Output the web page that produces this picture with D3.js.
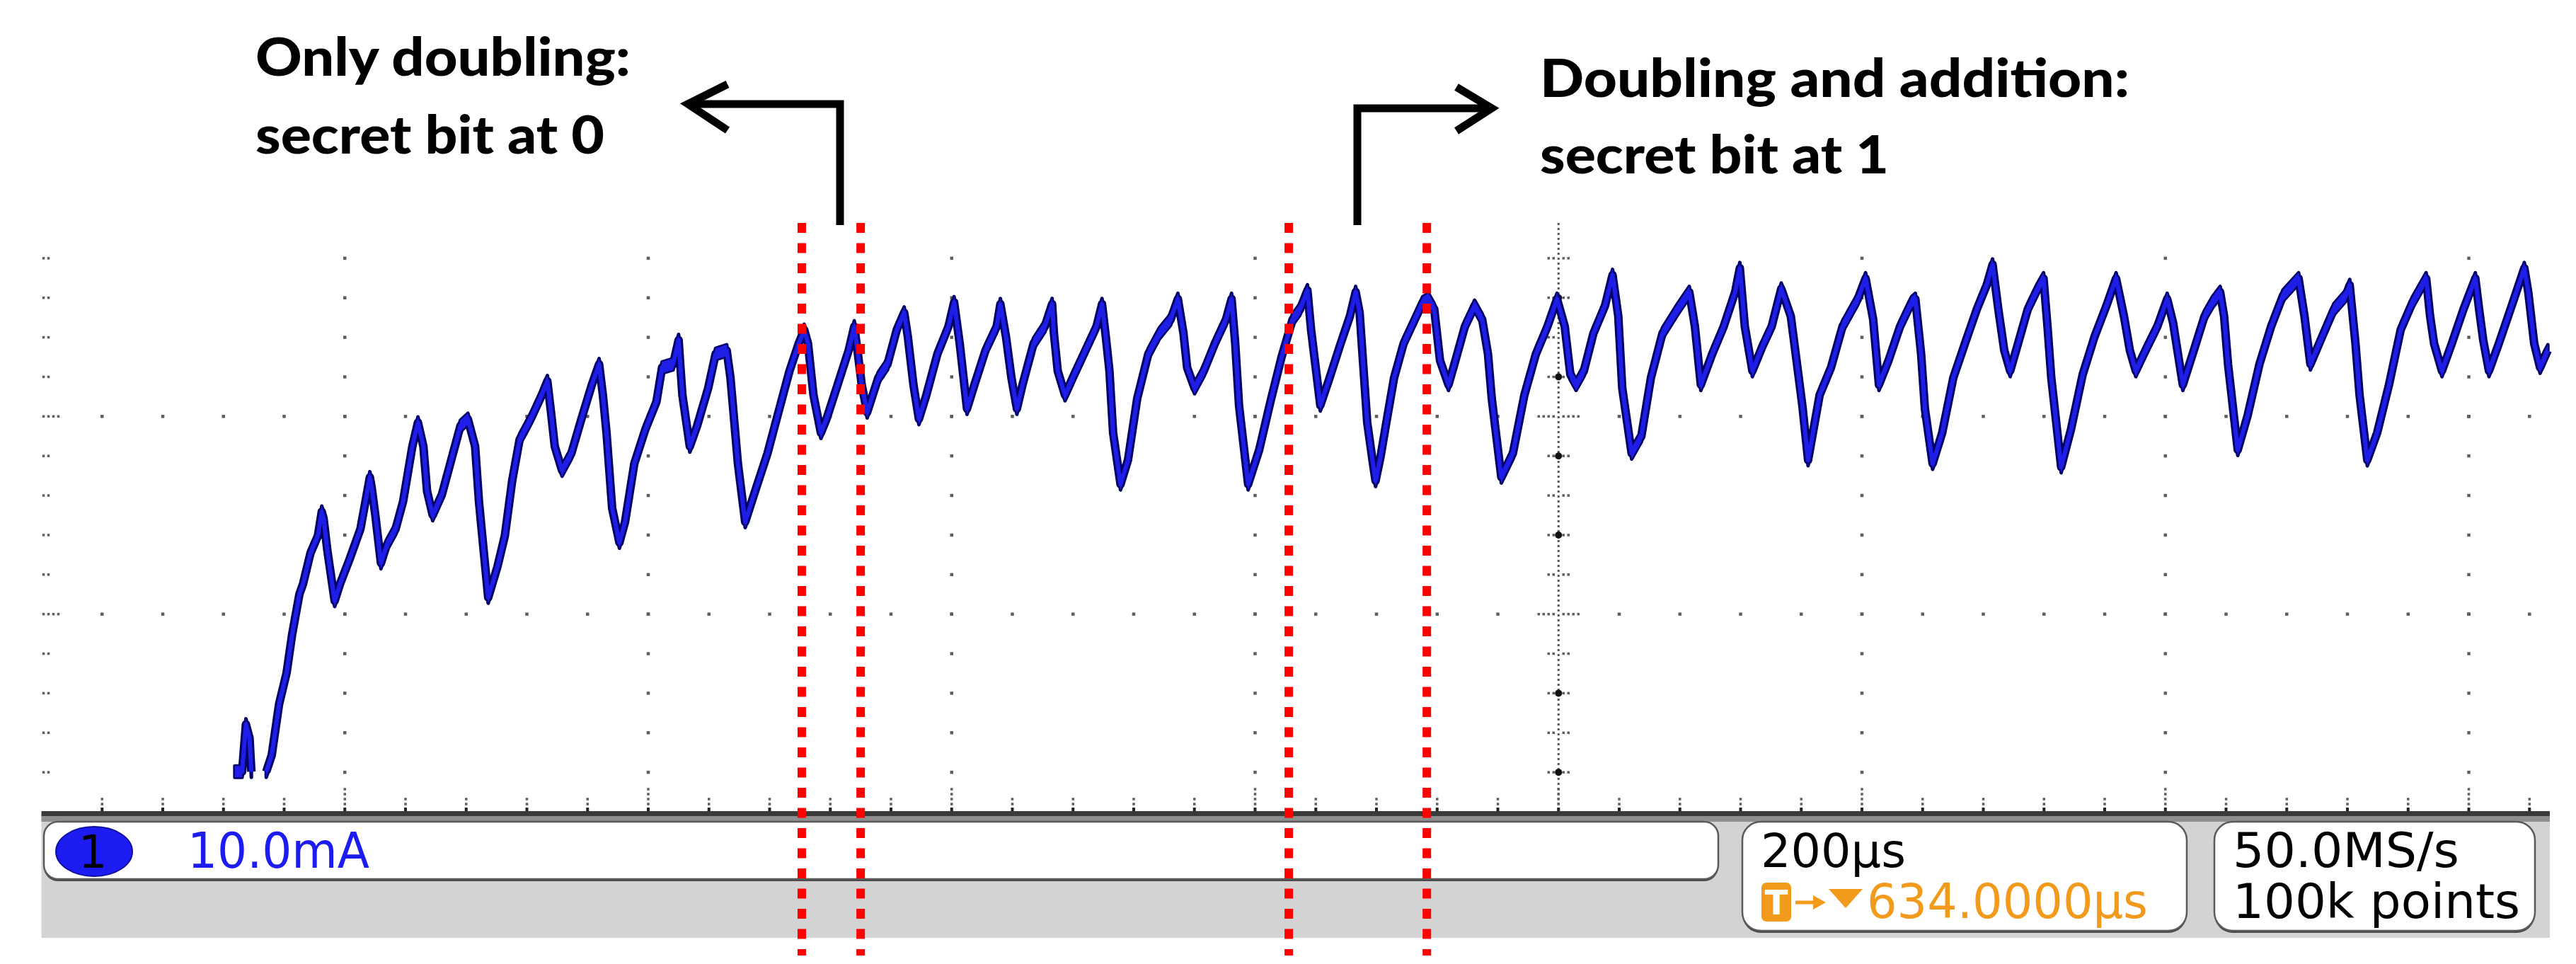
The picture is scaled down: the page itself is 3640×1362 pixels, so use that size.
<!DOCTYPE html>
<html><head><meta charset="utf-8">
<script src="https://cdn.jsdelivr.net/npm/d3@7"></script>
<style>html,body{margin:0;padding:0;background:#fff;} svg{display:block;}</style>
</head><body>
<svg id="chart" width="3640" height="1362"></svg>
<script>
// ---------------- DATA ----------------
// time axis: 200 µs / division, current axis: 10 mA / division
const timeSpanUs = 1653.4;           // visible width of the screen in µs
const currentSpanMa = 30;            // visible height of the screen in mA
const timeMinorUs = 40, timeMajorUs = 200;
const currentMinorMa = 2, currentMajorMa = 10;
const centerTimeUs = 1000;

const traceTimeUs = [
127.5,132.3,134.8,137.2,138.4,143.0,148.2,151.8,156.7,161.6,
165.2,170.1,172.5,177.4,182.3,184.8,186.0,188.4,193.3,196.9,
203.0,210.3,216.5,217.7,220.1,223.8,227.4,233.5,238.4,244.5,
248.2,251.8,254.2,257.9,264.0,271.3,276.2,281.1,285.9,288.4,
294.5,300.6,305.5,310.3,315.2,322.5,329.8,333.5,335.9,338.4,
343.2,349.3,356.6,362.8,367.6,370.1,372.5,376.2,381.0,384.7,
390.8,398.1,405.4,409.1,416.4,420.0,422.5,427.4,432.2,439.5,
444.4,451.7,454.2,459.1,463.9,471.2,478.6,485.8,493.1,499.2,
502.8,505.3,508.9,513.8,517.5,524.8,532.1,535.8,538.2,540.7,
544.3,551.6,557.7,563.8,568.7,571.1,574.8,578.4,583.3,590.6,
597.9,601.6,605.3,610.1,615.0,622.3,629.7,632.1,635.8,639.4,
643.0,646.7,654.0,661.4,666.2,667.4,669.9,674.7,680.8,688.2,
695.5,699.1,701.6,704.0,706.4,711.3,716.2,722.3,729.6,736.9,
744.3,749.1,752.8,755.2,760.1,766.2,773.5,780.8,784.5,786.9,
789.4,795.4,802.7,810.1,817.4,824.7,829.6,834.5,836.9,843.0,
849.1,856.4,862.5,866.3,868.9,871.4,873.9,877.7,879.4,882.7,
886.5,891.6,897.9,904.2,910.5,914.3,918.1,921.9,927.5,932.0,
938.3,944.7,949.7,953.5,956.0,962.3,969.9,977.5,985.1,992.7,
999.0,1004.1,1007.8,1011.6,1016.7,1023.0,1030.6,1035.6,1039.4,1042.0,
1048.2,1054.6,1060.9,1068.5,1078.5,1086.2,1089.9,1093.8,1101.3,1108.9,
1116.4,1119.5,1122.8,1127.8,1134.2,1140.5,1146.8,1153.1,1156.9,1160.7,
1164.5,1172.1,1179.6,1187.2,1197.3,1202.4,1207.4,1211.2,1217.5,1225.1,
1232.7,1235.2,1239.0,1241.5,1246.6,1252.9,1260.2,1267.9,1275.7,1282.2,
1286.1,1289.9,1293.8,1297.7,1302.9,1309.3,1315.8,1319.7,1322.3,1324.8,
1331.3,1337.8,1345.5,1353.3,1361.1,1367.5,1372.7,1376.6,1380.5,1386.9,
1394.7,1401.2,1405.1,1409.0,1411.5,1418.0,1425.8,1431.0,1436.1,1438.7,
1441.3,1447.7,1454.2,1462.0,1469.7,1477.5,1487.8,1491.7,1495.6,1503.3,
1511.1,1518.9,1521.5,1525.3,1528.0,1533.1,1539.6,1547.4,1555.1,1562.9,
1571.9,1574.5,1577.1,1582.3,1588.8,1596.5,1604.3,1606.8,1609.5,1613.3,
1619.8,1627.5,1636.6,1639.2,1643.1,1647.0,1650.9,1652.1
];
const traceCurrentMa = [
2.03,2.03,4.42,3.73,2.03,null,2.03,2.86,5.46,7.02,
8.94,11.02,11.54,13.10,13.97,15.18,14.84,13.27,10.67,11.54,
12.75,14.31,16.92,16.40,15.01,12.58,13.45,14.31,15.70,18.48,
19.69,18.48,16.22,15.01,16.05,18.13,19.52,19.87,18.48,15.70,
10.84,12.40,13.97,16.74,18.83,19.87,21.08,21.78,20.21,18.48,
17.26,18.13,20.04,21.60,22.64,21.08,19.17,15.36,13.62,14.66,
17.61,19.35,20.74,22.47,22.64,23.86,21.08,18.48,19.52,21.43,
23.16,23.34,21.95,17.61,14.66,16.40,18.13,20.21,22.30,23.69,
24.38,23.69,21.08,19.17,19.87,21.60,23.34,24.55,23.16,21.60,
20.21,21.95,22.64,24.38,25.25,24.03,21.60,19.87,21.08,23.16,
24.55,25.77,23.69,20.39,21.60,23.34,24.55,25.68,24.03,21.95,
20.39,21.60,23.69,24.55,25.68,24.20,22.30,21.08,22.12,23.34,
24.55,25.68,24.03,22.30,19.17,16.57,17.79,20.91,23.16,24.20,
24.90,25.94,24.20,22.47,21.43,22.30,23.69,24.90,25.94,23.69,
20.56,16.57,18.31,20.74,22.99,24.90,25.42,26.37,24.38,20.56,
21.95,23.69,25.07,26.29,25.25,22.47,19.69,17.61,16.74,17.96,
19.69,21.95,23.69,24.73,25.77,25.94,25.42,22.82,21.60,22.82,
24.55,25.59,24.90,23.16,20.91,16.92,18.13,21.08,23.16,24.55,
25.94,24.55,22.12,21.60,22.30,24.20,25.59,27.15,25.07,21.43,
18.13,19.00,21.95,24.20,25.42,26.29,24.55,21.60,23.16,24.55,
26.29,27.50,24.55,22.30,23.51,24.55,26.46,25.07,22.82,20.56,
17.79,21.08,22.47,24.55,25.94,26.98,24.90,21.60,22.82,24.55,
25.77,25.94,23.16,20.39,17.61,19.17,21.95,23.69,25.42,26.64,
27.68,25.42,23.34,22.30,23.69,25.42,26.46,26.98,24.55,21.95,
17.44,19.35,22.12,24.03,25.59,26.98,25.07,23.34,22.30,23.34,
24.55,25.94,24.73,22.82,21.60,23.16,25.07,25.77,26.29,25.07,
22.64,18.31,20.04,22.64,24.55,26.11,26.98,25.07,22.64,24.03,
25.42,26.11,26.64,23.69,21.08,17.79,19.17,21.60,24.38,25.77,
26.98,25.07,23.69,22.30,23.69,25.42,26.98,25.42,23.86,22.30,
23.69,25.42,27.50,26.29,23.69,22.47,23.16,23.34
];
// red dashed markers delimiting the two operations (µs)
const markerTimesUs = [501.2, 540.0, 822.2, 913.2];

// texts
const annotationLeft = ["Only doubling:", "secret bit at 0"];
const annotationRight = ["Doubling and addition:", "secret bit at 1"];
const channelLabel = "1";
const channelScale = "10.0mA";
const timebaseLabel = "200µs";
const triggerLabel = "634.0000µs";
const sampleRateLabel = "50.0MS/s";
const recordLabel = "100k points";

// ---------------- LAYOUT ----------------
const plot = {left: 58.5, right: 3603, top: 315, bottom: 1147};
const svg = d3.select("#chart");
const x = d3.scaleLinear().domain([0, timeSpanUs]).range([plot.left, plot.right]);
const y = d3.scaleLinear().domain([0, currentSpanMa]).range([plot.bottom, 309]);

const minorT = d3.range(timeMinorUs, timeSpanUs, timeMinorUs);
const majorT = d3.range(timeMajorUs, timeSpanUs, timeMajorUs);
const rowsI = d3.range(currentMinorMa, currentSpanMa, currentMinorMa);
const isMajorI = v => Math.abs(v % currentMajorMa) < 1e-9;

const grid = svg.append("g");
const dotC = "#5e5e5e";
function dot(cx, cy, s = 4.5, c = dotC) {
  grid.append("rect").attr("x", cx - s / 2).attr("y", cy - s / 2).attr("width", s).attr("height", s).attr("fill", c);
}
// major columns
majorT.filter(t => t !== centerTimeUs).forEach(t => rowsI.forEach(i => dot(x(t), y(i))));
// major rows
rowsI.filter(isMajorI).forEach(i => minorT.forEach(t => { if (t !== centerTimeUs) dot(x(t), y(i)); }));
// left edge ticks
rowsI.forEach(i => {
  const n = isMajorI(i) ? 4 : 2;
  for (let k = 0; k < n; k++) dot(plot.left + 3 + k * 7, y(i), 3.5);
});
// center column
grid.append("line").attr("x1", x(centerTimeUs)).attr("x2", x(centerTimeUs))
  .attr("y1", plot.top).attr("y2", plot.bottom)
  .attr("stroke", "#5a5a5a").attr("stroke-width", 3).attr("stroke-dasharray", "3,4");
rowsI.forEach(i => {
  const n = isMajorI(i) ? 4 : 2;
  for (let k = 1; k <= n; k++) { dot(x(centerTimeUs) - k * 7, y(i), 3.5); dot(x(centerTimeUs) + k * 7, y(i), 3.5); }
  if (i % 4 === 2 && !isMajorI(i)) grid.append("circle").attr("cx", x(centerTimeUs)).attr("cy", y(i)).attr("r", 5).attr("fill", "#111");
});
// bottom ticks
minorT.forEach(t => {
  const major = majorT.includes(t);
  const n = major ? 4 : 2;
  for (let k = 1; k <= n; k++) dot(x(t), plot.bottom - 4 - k * 7, 3.5);
  grid.append("rect").attr("x", x(t) - 2).attr("y", plot.bottom - 6).attr("width", 4).attr("height", 6).attr("fill", "#222");
});

// ---------------- TRACE ----------------
const pts = traceTimeUs.map((t, k) => ({t, i: traceCurrentMa[k]}));
const half = 8;
const area = d3.area().defined(d => d.i != null)
  .x(d => x(d.t)).y0(d => y(d.i) + half).y1(d => y(d.i) - half);
const line = d3.line().defined(d => d.i != null).x(d => x(d.t)).y(d => y(d.i));
const tr = svg.append("g");
const dark = "#000066", blue = "#1e1ee6";
// dark outline layer
tr.append("path").attr("d", line(pts)).attr("fill", "none").attr("stroke", dark).attr("stroke-width", 12).attr("stroke-linejoin", "round");
tr.append("path").attr("d", area(pts)).attr("fill", dark).attr("stroke", dark).attr("stroke-width", 5).attr("stroke-linejoin", "round");
// blue core layer
tr.append("path").attr("d", line(pts)).attr("fill", "none").attr("stroke", blue).attr("stroke-width", 6).attr("stroke-linejoin", "round");
tr.append("path").attr("d", area(pts)).attr("fill", blue);

// ---------------- STATUS BAR ----------------
const sb = svg.append("g");
sb.append("rect").attr("x", plot.left).attr("y", 1152).attr("width", plot.right - plot.left).attr("height", 173).attr("fill", "#d3d3d3");
sb.append("rect").attr("x", plot.left).attr("y", 1152).attr("width", plot.right - plot.left).attr("height", 9).attr("fill", "#8e8e8e");
sb.append("rect").attr("x", plot.left).attr("y", 1146).attr("width", plot.right - plot.left).attr("height", 7).attr("fill", "#3a3a3a");
function box(bx, by, bw, bh, r) {
  sb.append("rect").attr("x", bx).attr("y", by + 3).attr("width", bw).attr("height", bh).attr("rx", r).attr("fill", "#4a4a4a");
  sb.append("rect").attr("x", bx).attr("y", by).attr("width", bw).attr("height", bh).attr("rx", r)
    .attr("fill", "#fff").attr("stroke", "#5a5a5a").attr("stroke-width", 2.5);
}
box(62, 1161, 2366, 81, 20);
box(2462, 1161, 628, 154, 26);
box(3129, 1161, 453, 154, 26);

const fontScope = "'DejaVu Sans', Verdana, sans-serif";
sb.append("ellipse").attr("cx", 133).attr("cy", 1203).attr("rx", 54).attr("ry", 35).attr("fill", "#1c1cf0").attr("stroke", "#1010a0").attr("stroke-width", 2);
sb.append("text").attr("x", 131).attr("y", 1226).attr("text-anchor", "middle").attr("font-family", fontScope).attr("font-size", 64).attr("fill", "#000").text(channelLabel);
sb.append("text").attr("x", 265).attr("y", 1226).attr("font-family", fontScope).attr("font-size", 70).attr("fill", "#1c1cf0")
  .attr("textLength", 257).attr("lengthAdjust", "spacingAndGlyphs").text(channelScale);
sb.append("text").attr("x", 2488).attr("y", 1225).attr("font-family", fontScope).attr("font-size", 66).attr("fill", "#000")
  .attr("textLength", 205).attr("lengthAdjust", "spacingAndGlyphs").text(timebaseLabel);
// trigger icon
const orange = "#f29a1c";
sb.append("rect").attr("x", 2489).attr("y", 1247).attr("width", 42).attr("height", 55).attr("rx", 7).attr("fill", orange);
sb.append("text").attr("x", 2510).attr("y", 1292).attr("text-anchor", "middle").attr("font-family", fontScope).attr("font-weight", "bold").attr("font-size", 48).attr("fill", "#fff").text("T");
sb.append("line").attr("x1", 2537).attr("x2", 2566).attr("y1", 1275).attr("y2", 1275).attr("stroke", orange).attr("stroke-width", 5);
sb.append("path").attr("d", "M2562,1265 L2580,1275 L2562,1285 Z").attr("fill", orange);
sb.append("path").attr("d", "M2584,1256 L2632,1256 L2608,1283 Z").attr("fill", orange);
sb.append("text").attr("x", 2638).attr("y", 1297).attr("font-family", fontScope).attr("font-size", 68).attr("fill", orange)
  .attr("textLength", 397).attr("lengthAdjust", "spacingAndGlyphs").text(triggerLabel);
sb.append("text").attr("x", 3155).attr("y", 1225).attr("font-family", fontScope).attr("font-size", 68).attr("fill", "#000")
  .attr("textLength", 320).attr("lengthAdjust", "spacingAndGlyphs").text(sampleRateLabel);
sb.append("text").attr("x", 3155).attr("y", 1297).attr("font-family", fontScope).attr("font-size", 68).attr("fill", "#000")
  .attr("textLength", 406).attr("lengthAdjust", "spacingAndGlyphs").text(recordLabel);

// ---------------- RED MARKERS ----------------
svg.append("g").selectAll("line").data(markerTimesUs).join("line")
  .attr("x1", d => x(d)).attr("x2", d => x(d)).attr("y1", 315).attr("y2", 1350)
  .attr("stroke", "#ff0000").attr("stroke-width", 12).attr("stroke-dasharray", "14,14.5");

// ---------------- ANNOTATIONS ----------------
const an = svg.append("g");
const fontAnn = "Lato, 'Open Sans', sans-serif";
function annText(tx, ty, str, w) {
  an.append("text").attr("x", tx).attr("y", ty).attr("font-family", fontAnn).attr("font-weight", 900)
    .attr("font-size", 74).attr("fill", "#000").attr("textLength", w).attr("lengthAdjust", "spacingAndGlyphs").text(str);
}
annText(361, 107, annotationLeft[0], 530);
annText(361, 217, annotationLeft[1], 493);
annText(2176, 137, annotationRight[0], 833);
annText(2176, 245, annotationRight[1], 493);
const arrowStyle = s => s.attr("fill", "none").attr("stroke", "#000").attr("stroke-width", 11).attr("stroke-linejoin", "miter");
arrowStyle(an.append("path").attr("d", "M1187,318 L1187,147 L972,147"));
arrowStyle(an.append("path").attr("d", "M1028,119 L972,147 L1028,184"));
arrowStyle(an.append("path").attr("d", "M1918,318 L1918,153 L2106,153"));
arrowStyle(an.append("path").attr("d", "M2058,123 L2108,153 L2058,185"));
</script>
</body></html>
